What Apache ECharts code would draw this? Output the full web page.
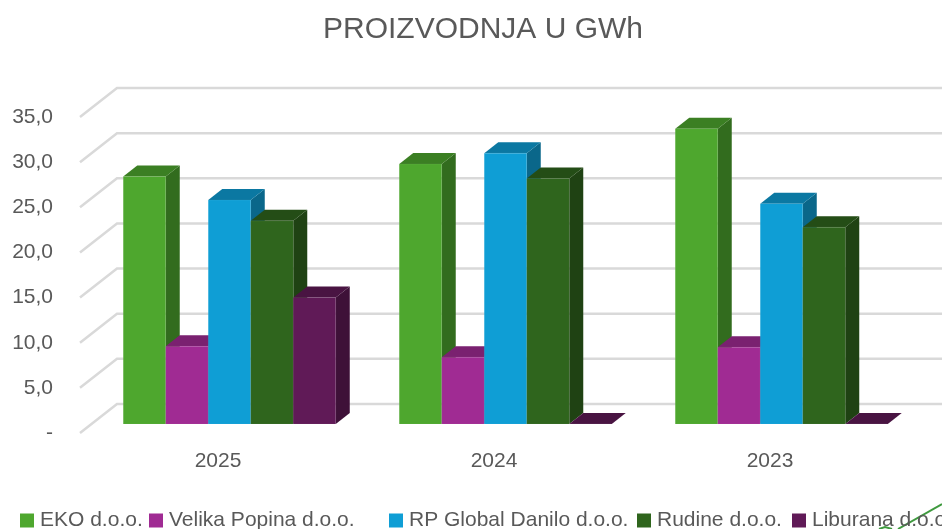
<!DOCTYPE html>
<html>
<head>
<meta charset="utf-8">
<style>html,body{margin:0;padding:0;background:#fff}#main{width:942px;height:529px}</style>
<script src="https://cdn.jsdelivr.net/npm/echarts@6/dist/echarts.min.js"></script>
</head>
<body>
<div id="main"></div>
<script>
var years = ['2025', '2024', '2023'];
var names = ['EKO d.o.o.', 'Velika Popina d.o.o.', 'RP Global Danilo d.o.o.', 'Rudine d.o.o.', 'Liburana d.o.o.'];
var eko = [27.4, 28.8, 32.7];
var velika = [8.6, 7.4, 8.5];
var rpGlobal = [24.8, 30.0, 24.4];
var rudine = [22.5, 27.2, 21.8];
var liburana = [14.0, 0, 0];
var yTicks = [0, 5, 10, 15, 20, 25, 30, 35];
var yTickLabels = ['-', '5,0', '10,0', '15,0', '20,0', '25,0', '30,0', '35,0'];

var allValues = [eko, velika, rpGlobal, rudine, liburana];
// front, top, side
var colors = [
  ['#4ea72e', '#3b7f23', '#326c1e'],
  ['#a02b93', '#7a2170', '#681c5f'],
  ['#0f9ed5', '#0b78a2', '#0a678a'],
  ['#2f651d', '#244d16', '#1f4213'],
  ['#601a57', '#491442', '#3e1138']
];
var legendLeft = [20, 149, 389, 637, 792];
var font = '"Liberation Sans", Arial, sans-serif';

// 3d look: floor depth and how far the bars sit from the front edge
var wallDx = 37, wallDy = 29;
var frontDx = 11.5, frontDy = 9;
var barDx = 14, barDy = 11;
var barRatio = 0.154;

function renderWall(params, api) {
  var p = api.coord([0, api.value(1)]);
  var cs = params.coordSys;
  return {
    type: 'polyline',
    silent: true,
    shape: { points: [[cs.x, p[1]], [cs.x + wallDx, p[1] - wallDy], [cs.x + cs.width + wallDx, p[1] - wallDy]] },
    style: { fill: null, stroke: '#d9d9d9', lineWidth: 2.5 }
  };
}

function barRender(idx) {
  return function (params, api) {
    var c = api.coord([api.value(0), api.value(1)]);
    var base = api.coord([api.value(0), 0]);
    var w = api.size([1, 0])[0] * barRatio;
    var x0 = c[0] + frontDx + (idx - names.length / 2) * w;
    var x1 = x0 + w;
    var yTop = c[1] - frontDy;
    var yBase = base[1] - frontDy;
    return {
      type: 'group',
      children: [
        {
          type: 'polygon',
          shape: { points: [[x1, yTop], [x1 + barDx, yTop - barDy], [x1 + barDx, yBase - barDy], [x1, yBase]] },
          style: { fill: colors[idx][2] }
        },
        {
          type: 'polygon',
          shape: { points: [[x0, yTop], [x0 + barDx, yTop - barDy], [x1 + barDx, yTop - barDy], [x1, yTop]] },
          style: { fill: colors[idx][1] }
        },
        {
          type: 'rect',
          shape: { x: x0, y: yTop, width: w, height: yBase - yTop },
          style: { fill: colors[idx][0], stroke: 'rgba(255,255,255,0.12)', lineWidth: 0.5 }
        }
      ]
    };
  };
}

var series = [{
  type: 'custom',
  silent: true,
  renderItem: renderWall,
  encode: { x: 0, y: 1 },
  data: yTicks.map(function (t) { return [0, t]; })
}];
names.forEach(function (name, i) {
  series.push({
    name: name,
    type: 'custom',
    renderItem: barRender(i),
    encode: { x: 0, y: 1 },
    itemStyle: { color: colors[i][0] },
    clip: false,
    data: allValues[i].map(function (v, j) { return [j, v]; })
  });
});

var chart = echarts.init(document.getElementById('main'));
var option = {
  animation: false,
  backgroundColor: '#fff',
  title: {
    text: 'PROIZVODNJA U GWh',
    left: 478,
    top: 10,
    textAlign: 'center',
    textStyle: { color: '#595959', fontSize: 30, fontWeight: 'normal', fontFamily: font }
  },
  legend: names.map(function (name, i) {
    return {
      data: [name],
      left: legendLeft[i],
      top: 510,
      padding: 0,
      icon: 'rect',
      itemWidth: 14,
      itemHeight: 14,
      itemGap: 0,
      selectedMode: false,
      textStyle: { color: '#595959', fontSize: 21, fontFamily: font, padding: [0, 0, 0, 1] }
    };
  }),
  grid: { left: 80, top: 117, width: 828, height: 316, containLabel: false },
  xAxis: {
    type: 'category',
    data: years,
    axisLine: { show: false },
    axisTick: { show: false },
    axisLabel: { color: '#595959', fontSize: 21, fontFamily: font, margin: 18 }
  },
  yAxis: {
    type: 'value',
    min: 0,
    max: 35,
    interval: 5,
    axisLine: { show: false },
    axisTick: { show: false },
    splitLine: { show: false },
    axisLabel: {
      color: '#595959',
      fontSize: 21,
      fontFamily: font,
      margin: 27,
      formatter: function (v) { return yTickLabels[yTicks.indexOf(v)]; }
    }
  },
  // edge of the next chart on the sheet, showing behind the legend
  graphic: [
    {
      type: 'polyline',
      silent: true,
      z: -1,
      shape: { points: [[942, 504], [898, 529]] },
      style: { fill: null, stroke: '#3f9a3f', lineWidth: 2 }
    },
    {
      type: 'polyline',
      silent: true,
      z: -1,
      shape: { points: [[879, 529], [885, 527], [892, 529]] },
      style: { fill: null, stroke: '#3f9a3f', lineWidth: 2 }
    }
  ],
  series: series
};
chart.setOption(option);
</script>
</body>
</html>
